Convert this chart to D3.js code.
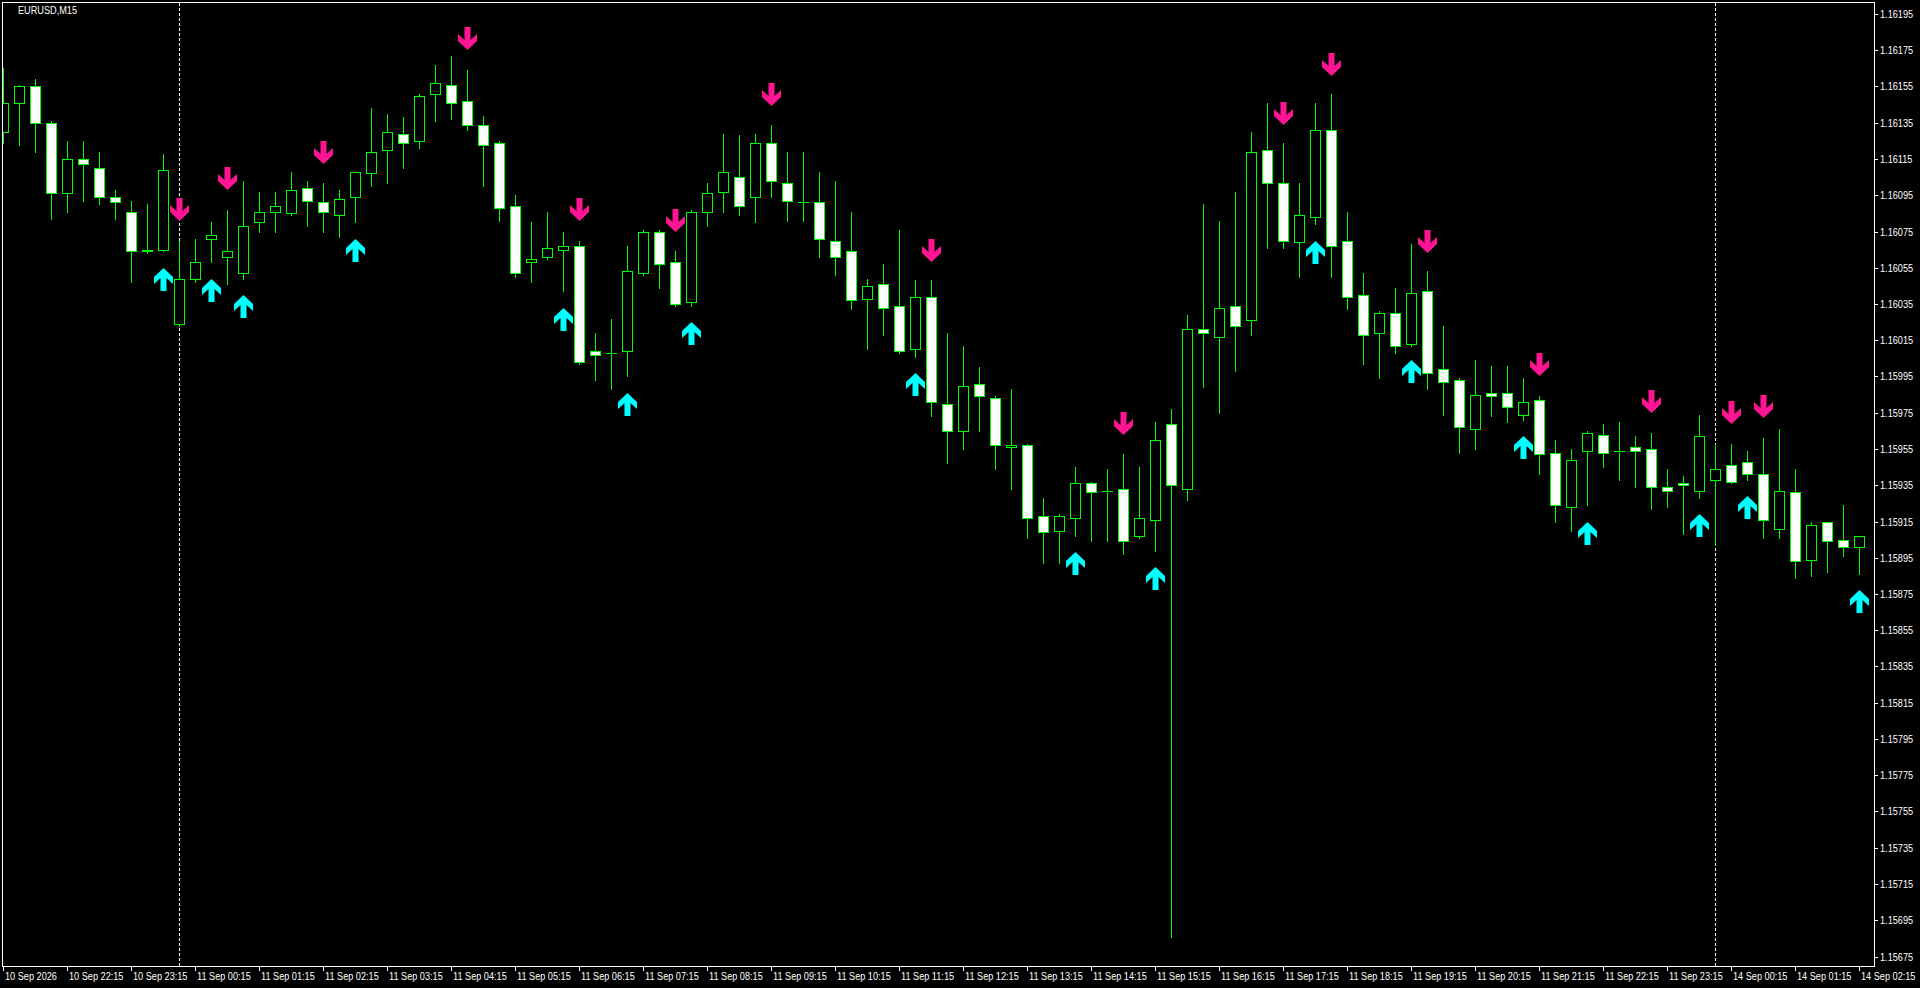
<!DOCTYPE html>
<html><head><meta charset="utf-8">
<script src="https://cdn.jsdelivr.net/npm/d3@7"></script>
<style>html,body{margin:0;padding:0;background:#000;overflow:hidden}</style>
</head><body>
<svg id="c" width="1920" height="988"></svg>
<script>
const symbolTitle = "EURUSD,M15";

const open = [
1.16130,1.16146,1.16155,1.16135,1.16096,1.16115,1.16110,1.16094,1.16086,1.16065,
1.16065,1.16024,1.16049,1.16071,1.16061,1.16052,1.16080,1.16086,1.16085,1.16099,
1.16091,1.16084,1.16094,1.16107,1.16120,1.16129,1.16125,1.16151,1.16156,1.16147,
1.16134,1.16124,1.16089,1.16058,1.16061,1.16065,1.16067,1.16009,1.16008,1.16009,
1.16052,1.16075,1.16058,1.16036,1.16086,1.16097,1.16105,1.16094,1.16124,1.16102,
1.16091,1.16091,1.16070,1.16064,1.16038,1.16046,1.16034,1.16010,1.16039,1.15980,
1.15965,1.15991,1.15983,1.15956,1.15957,1.15918,1.15910,1.15917,1.15936,1.15932,
1.15933,1.15907,1.15916,1.15969,1.15933,1.16021,1.16017,1.16034,1.16026,1.16120,
1.16102,1.16069,1.16083,1.16131,1.16070,1.16040,1.16019,1.16030,1.16013,1.16042,
1.15999,1.15993,1.15966,1.15986,1.15986,1.15974,1.15982,1.15953,1.15923,1.15954,
1.15963,1.15954,1.15956,1.15955,1.15934,1.15936,1.15932,1.15938,1.15946,1.15948,
1.15941,1.15911,1.15931,1.15894,1.15915,1.15905,1.15901];

const high = [
1.16165,1.16156,1.16159,1.16136,1.16125,1.16125,1.16119,1.16098,1.16092,1.16090,
1.16118,1.16070,1.16071,1.16080,1.16087,1.16103,1.16097,1.16097,1.16108,1.16103,
1.16102,1.16098,1.16108,1.16143,1.16140,1.16138,1.16151,1.16167,1.16172,1.16164,
1.16139,1.16125,1.16095,1.16080,1.16086,1.16075,1.16070,1.16019,1.16027,1.16067,
1.16076,1.16076,1.16064,1.16087,1.16102,1.16129,1.16128,1.16129,1.16134,1.16119,
1.16119,1.16108,1.16103,1.16086,1.16049,1.16057,1.16076,1.16048,1.16048,1.16019,
1.16012,1.16000,1.15984,1.15988,1.15958,1.15928,1.15919,1.15945,1.15937,1.15944,
1.15952,1.15945,1.15970,1.15977,1.16029,1.16090,1.16081,1.16097,1.16130,1.16146,
1.16124,1.16102,1.16146,1.16151,1.16086,1.16052,1.16031,1.16044,1.16068,1.16053,
1.16023,1.15994,1.16004,1.16001,1.16001,1.15994,1.15984,1.15960,1.15955,1.15965,
1.15969,1.15970,1.15962,1.15964,1.15944,1.15940,1.15974,1.15958,1.15958,1.15954,
1.15961,1.15966,1.15944,1.15915,1.15915,1.15924,1.15907];

const low = [
1.16124,1.16123,1.16119,1.16082,1.16086,1.16092,1.16090,1.16082,1.16047,1.16063,
1.16064,1.16023,1.16047,1.16058,1.16046,1.16049,1.16075,1.16075,1.16084,1.16078,
1.16075,1.16072,1.16080,1.16100,1.16102,1.16110,1.16121,1.16136,1.16137,1.16131,
1.16100,1.16081,1.16050,1.16047,1.16060,1.16042,1.16002,1.15993,1.15988,1.15995,
1.16051,1.16044,1.16034,1.16034,1.16078,1.16086,1.16084,1.16080,1.16094,1.16081,
1.16081,1.16061,1.16051,1.16032,1.16010,1.16018,1.16008,1.16006,1.15973,1.15947,
1.15955,1.15965,1.15944,1.15933,1.15906,1.15892,1.15892,1.15907,1.15904,1.15904,
1.15897,1.15906,1.15899,1.15686,1.15927,1.15989,1.15975,1.15998,1.16018,1.16066,
1.16066,1.16050,1.16079,1.16050,1.16032,1.16002,1.15994,1.16008,1.16012,1.15988,
1.15974,1.15953,1.15955,1.15973,1.15970,1.15971,1.15941,1.15915,1.15910,1.15924,
1.15945,1.15938,1.15934,1.15922,1.15923,1.15908,1.15928,1.15902,1.15936,1.15938,
1.15906,1.15906,1.15884,1.15885,1.15887,1.15896,1.15886];

const close = [
1.16146,1.16155,1.16135,1.16096,1.16115,1.16112,1.16094,1.16091,1.16064,1.16064,
1.16109,1.16049,1.16058,1.16073,1.16064,1.16078,1.16086,1.16089,1.16098,1.16092,
1.16086,1.16093,1.16108,1.16119,1.16130,1.16124,1.16150,1.16157,1.16146,1.16134,
1.16123,1.16088,1.16052,1.16060,1.16066,1.16067,1.16003,1.16007,1.16008,1.16053,
1.16075,1.16057,1.16035,1.16086,1.16096,1.16108,1.16089,1.16124,1.16103,1.16092,
1.16091,1.16071,1.16061,1.16037,1.16045,1.16033,1.16009,1.16039,1.15981,1.15965,
1.15990,1.15984,1.15957,1.15957,1.15917,1.15909,1.15918,1.15936,1.15931,1.15932,
1.15904,1.15917,1.15960,1.15935,1.16021,1.16019,1.16033,1.16023,1.16119,1.16102,
1.16070,1.16084,1.16131,1.16067,1.16039,1.16018,1.16030,1.16012,1.16041,1.15997,
1.15992,1.15967,1.15985,1.15984,1.15978,1.15981,1.15952,1.15924,1.15949,1.15964,
1.15953,1.15954,1.15954,1.15934,1.15932,1.15935,1.15962,1.15944,1.15937,1.15941,
1.15916,1.15932,1.15893,1.15913,1.15904,1.15901,1.15907];

const downBars   = [11,14,20,29,36,42,48,58,70,80,83,89,96,103,108,110];
const downPrices = [1.16081,1.16098,1.16112,1.16175,1.16081,1.16075,1.16144,1.16058,1.15963,1.16134,1.16161,1.16063,1.15995,1.15975,1.15969,1.15972];
const upBars     = [10,13,15,22,35,39,43,57,67,72,82,88,95,99,106,109,116];
const upPrices   = [1.16055,1.16049,1.16040,1.16071,1.16033,1.15986,1.16025,1.15997,1.15898,1.15890,1.16070,1.16004,1.15962,1.15915,1.15919,1.15929,1.15877];

const priceTicks = [1.16195,1.16175,1.16155,1.16135,1.16115,1.16095,1.16075,1.16055,1.16035,1.16015,
1.15995,1.15975,1.15955,1.15935,1.15915,1.15895,1.15875,1.15855,1.15835,1.15815,1.15795,1.15775,
1.15755,1.15735,1.15715,1.15695,1.15675];

const timeLabels = ["10 Sep 2026","10 Sep 22:15","10 Sep 23:15",
"11 Sep 00:15","11 Sep 01:15","11 Sep 02:15","11 Sep 03:15","11 Sep 04:15","11 Sep 05:15",
"11 Sep 06:15","11 Sep 07:15","11 Sep 08:15","11 Sep 09:15","11 Sep 10:15","11 Sep 11:15",
"11 Sep 12:15","11 Sep 13:15","11 Sep 14:15","11 Sep 15:15","11 Sep 16:15","11 Sep 17:15",
"11 Sep 18:15","11 Sep 19:15","11 Sep 20:15","11 Sep 21:15","11 Sep 22:15","11 Sep 23:15",
"14 Sep 00:15","14 Sep 01:15","14 Sep 02:15"];
const separatorBars = [11,107];

// ---------- drawing ----------
const W = 1920, H = 988;
const plot = {l:2.5, t:2.5, r:1874.5, b:966.5};
const GREEN = "#00ff00", PINK = "#ff1493", CYAN = "#00ffff";
const FONT = "'Liberation Sans', Arial, sans-serif";
const svg = d3.select("#c");
svg.append("rect").attr("width",W).attr("height",H).attr("fill","#000");

const n = open.length;
const x = d3.scaleLinear().domain([0, n-1]).range([3, 1859]);
const y = d3.scaleLinear().domain([1.15675, 1.16195]).range([956.5, 14]);
const X = i => Math.round(x(i));
const Y = v => Math.round(y(v));

svg.append("clipPath").attr("id","clip").append("rect")
  .attr("x",3).attr("y",3).attr("width",1871).attr("height",963);
const g = svg.append("g").attr("clip-path","url(#clip)").attr("shape-rendering","crispEdges");

// period separators
g.selectAll("line.sep").data(separatorBars).join("line")
  .attr("x1",d=>X(d)+0.5).attr("x2",d=>X(d)+0.5)
  .attr("y1",3).attr("y2",966)
  .attr("stroke","#fff").attr("stroke-width",1).attr("stroke-dasharray","3,2");

const bars = d3.range(n).map(i => ({i, o:open[i], h:high[i], l:low[i], c:close[i]}));
// wicks
g.selectAll("rect.wick").data(bars).join("rect")
  .attr("x",d=>X(d.i)).attr("y",d=>Y(d.h))
  .attr("width",1).attr("height",d=>Y(d.l)-Y(d.h)+1)
  .attr("fill",GREEN);
// bodies
g.selectAll("rect.body").data(bars.filter(d=>Y(d.o)!==Y(d.c))).join("rect")
  .attr("x",d=>X(d.i)-4.5)
  .attr("y",d=>Y(Math.max(d.o,d.c))+0.5)
  .attr("width",10)
  .attr("height",d=>Y(Math.min(d.o,d.c))-Y(Math.max(d.o,d.c)))
  .attr("fill",d=>d.c>d.o?"#000":"#fff")
  .attr("stroke",GREEN).attr("stroke-width",1);
// doji
g.selectAll("rect.doji").data(bars.filter(d=>Y(d.o)===Y(d.c))).join("rect")
  .attr("x",d=>X(d.i)-5).attr("y",d=>Y(d.o))
  .attr("width",11).attr("height",1).attr("fill",GREEN);

// arrows
const downShape = [[0,0],[9.5,-9],[9.5,-16],[3,-10],[3,-23],[-3,-23],[-3,-10],[-9.5,-16],[-9.5,-9]];
const upShape = downShape.map(p=>[p[0],-p[1]]);
const ag = svg.append("g").attr("clip-path","url(#clip)");
ag.selectAll("polygon.dn").data(downBars.map((b,k)=>({b,p:downPrices[k]}))).join("polygon")
  .attr("points",d=>downShape.map(p=>[X(d.b)+0.5+p[0], Y(d.p)+p[1]].join(",")).join(" "))
  .attr("fill",PINK);
ag.selectAll("polygon.up").data(upBars.map((b,k)=>({b,p:upPrices[k]}))).join("polygon")
  .attr("points",d=>upShape.map(p=>[X(d.b)+0.5+p[0], Y(d.p)+p[1]].join(",")).join(" "))
  .attr("fill",CYAN);

// frame
svg.append("rect").attr("x",plot.l).attr("y",plot.t)
  .attr("width",plot.r-plot.l).attr("height",plot.b-plot.t)
  .attr("fill","none").attr("stroke","#fff").attr("stroke-width",1)
  .attr("shape-rendering","crispEdges");

const K = 0.915;
function squeeze(sel){ sel.each(function(){ const L=this.getComputedTextLength(); this.setAttribute("textLength",(L*K).toFixed(2)); this.setAttribute("lengthAdjust","spacingAndGlyphs"); }); }

// price axis
const pa = svg.append("g");
pa.selectAll("line").data(priceTicks).join("line")
  .attr("x1",1875).attr("x2",1878).attr("y1",d=>Y(d)+0.5).attr("y2",d=>Y(d)+0.5)
  .attr("stroke","#fff").attr("shape-rendering","crispEdges");
pa.selectAll("text").data(priceTicks).join("text")
  .attr("x",1880).attr("y",d=>Y(d)+4)
  .attr("fill","#fff").attr("font-family",FONT).attr("font-size","10px")
  .text(d=>d3.format(".5f")(d)).call(squeeze);

// time axis
const ta = svg.append("g");
const tlab = timeLabels.map((t,k)=>({t, i:k*4}));
ta.selectAll("line").data(tlab).join("line")
  .attr("x1",d=>X(d.i)+0.5).attr("x2",d=>X(d.i)+0.5).attr("y1",967).attr("y2",971)
  .attr("stroke","#fff").attr("shape-rendering","crispEdges");
ta.selectAll("text").data(tlab).join("text")
  .attr("x",d=>X(d.i)+2).attr("y",980)
  .attr("fill","#fff").attr("font-family",FONT).attr("font-size","10px")
  .text(d=>d.t).call(squeeze);

// title
svg.append("text").attr("x",18).attr("y",14).attr("fill","#fff")
  .attr("font-family",FONT).attr("font-size","10px").text(symbolTitle).call(squeeze);
</script>
</body></html>
